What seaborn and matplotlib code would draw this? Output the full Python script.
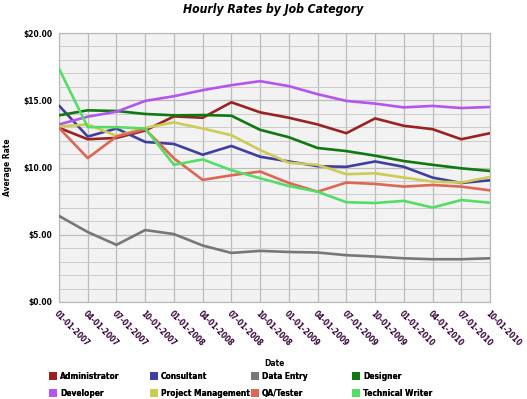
import matplotlib
matplotlib.use("Agg")
import matplotlib.pyplot as plt
import matplotlib.patches as mpatches
from matplotlib.ticker import MultipleLocator, FuncFormatter
import seaborn as sns
import pandas as pd

dates = ["01-01-2007", "04-01-2007", "07-01-2007", "10-01-2007",
         "01-01-2008", "04-01-2008", "07-01-2008", "10-01-2008",
         "01-01-2009", "04-01-2009", "07-01-2009", "10-01-2009",
         "01-01-2010", "04-01-2010", "07-01-2010", "10-01-2010"]

administrator = [12.95, 12.1, 12.2, 12.75, 13.8, 13.7, 14.85, 14.1, 13.7, 13.2, 12.55, 13.65, 13.1, 12.85, 12.1, 12.55]
consultant = [14.6, 12.3, 12.9, 11.9, 11.75, 10.95, 11.6, 10.8, 10.45, 10.1, 10.05, 10.45, 10.05, 9.25, 8.85, 9.05]
data_entry = [6.4, 5.2, 4.25, 5.35, 5.05, 4.2, 3.65, 3.8, 3.72, 3.68, 3.48, 3.38, 3.25, 3.18, 3.18, 3.25]
designer = [13.88, 14.25, 14.2, 13.98, 13.88, 13.9, 13.85, 12.8, 12.25, 11.45, 11.22, 10.88, 10.48, 10.2, 9.94, 9.74]
developer = [13.2, 13.78, 14.15, 14.95, 15.3, 15.75, 16.12, 16.42, 16.05, 15.45, 14.95, 14.75, 14.47, 14.58, 14.42, 14.5]
project_mgmt = [13.05, 13.2, 12.35, 12.95, 13.35, 12.9, 12.4, 11.3, 10.35, 10.2, 9.5, 9.57, 9.25, 8.95, 8.88, 9.3]
qa_tester = [12.95, 10.7, 12.3, 12.85, 10.68, 9.08, 9.42, 9.7, 8.85, 8.2, 8.88, 8.78, 8.58, 8.7, 8.58, 8.3]
tech_writer = [17.35, 13.0, 13.0, 12.9, 10.2, 10.6, 9.8, 9.2, 8.62, 8.2, 7.42, 7.36, 7.52, 7.02, 7.58, 7.38]

categories = ["Administrator", "Consultant", "Data Entry", "Designer",
              "Developer", "Project Management", "QA/Tester", "Technical Writer"]
series = [administrator, consultant, data_entry, designer,
          developer, project_mgmt, qa_tester, tech_writer]
colors = ["#992222", "#3f3f9f", "#777777", "#117711",
          "#b355ee", "#cccc55", "#dd6655", "#55dd66"]

rows = []
for cat, vals in zip(categories, series):
    for i, v in enumerate(vals):
        rows.append({"Date": i, "Job": cat, "Rate": v})
df = pd.DataFrame(rows)

sns.set_theme(style="white")
plt.rcParams['font.family'] = ['DejaVu Sans']
plt.rcParams['font.stretch'] = 'condensed'
plt.rcParams['text.color'] = 'black'
plt.rcParams['axes.labelcolor'] = 'black'
plt.rcParams['xtick.color'] = 'black'
plt.rcParams['ytick.color'] = 'black'

fig = plt.figure(figsize=(5.27, 3.99), dpi=100)
ax = fig.add_axes([59/527, 1-302/399, (490-59)/527, (302-33)/399])
ax.set_facecolor("#f2f2f2")

sns.lineplot(data=df, x="Date", y="Rate", hue="Job", hue_order=categories,
             palette=dict(zip(categories, colors)), linewidth=1.9, ax=ax,
             legend=False, zorder=3)

ax.set_xlim(0, len(dates) - 1)
ax.set_ylim(0, 20)
ax.yaxis.set_major_locator(MultipleLocator(5))
ax.yaxis.set_minor_locator(MultipleLocator(1))
ax.yaxis.set_major_formatter(FuncFormatter(lambda v, p: f"${v:.2f}"))
ax.set_xticks(range(len(dates)))
ax.set_xticklabels(dates, rotation=-45, ha="left", va="top",
                   rotation_mode="anchor", fontsize=5.8, fontweight="bold",
                   color="#330033")
for lab in ax.get_yticklabels():
    lab.set_fontsize(6)
    lab.set_fontweight("bold")
    lab.set_color("black")
ax.grid(True, which="major", color="#bbbbbb", linewidth=0.9, zorder=0)
ax.grid(True, which="minor", axis="y", color="#cccccc", linewidth=0.7, zorder=0)
ax.set_axisbelow(True)
ax.tick_params(axis="both", which="both", length=3, pad=2, color="#999999")
ax.tick_params(axis="y", which="minor", length=0)
for s in ax.spines.values():
    s.set_color("#bbbbbb")
    s.set_linewidth(0.9)

ax.set_xlabel("Date", fontsize=6, fontweight="bold", labelpad=0, color="black")
ax.xaxis.set_label_coords((274-59)/(490-59), -(359-302)/(302-33))
ax.set_ylabel("Average Rate", fontsize=6, fontweight="bold", color="black")
ax.yaxis.set_label_coords(-(59-12)/(490-59), 0.5)

fig.suptitle("Hourly Rates by Job Category", x=0.518, y=0.993, fontsize=8.7,
             fontweight="bold", fontstyle="italic", color="black")

handles = [mpatches.Patch(facecolor=c, edgecolor="none", label=l)
           for l, c in zip(categories, colors)]
col_x = [49, 150, 251, 352]
for j in range(4):
    idx = [j, j + 4]
    leg = fig.legend([handles[i] for i in idx], [categories[i] for i in idx],
                     ncol=1, loc="upper left",
                     bbox_to_anchor=(col_x[j]/527, 1-372/399),
                     frameon=False,
                     prop={"weight": "bold", "size": 6, "stretch": "condensed"},
                     handlelength=0.95, handleheight=1.1, handletextpad=0.35,
                     labelspacing=0.95, borderaxespad=0, borderpad=0)
    fig.add_artist(leg)

fig.savefig("out.png", dpi=100)
